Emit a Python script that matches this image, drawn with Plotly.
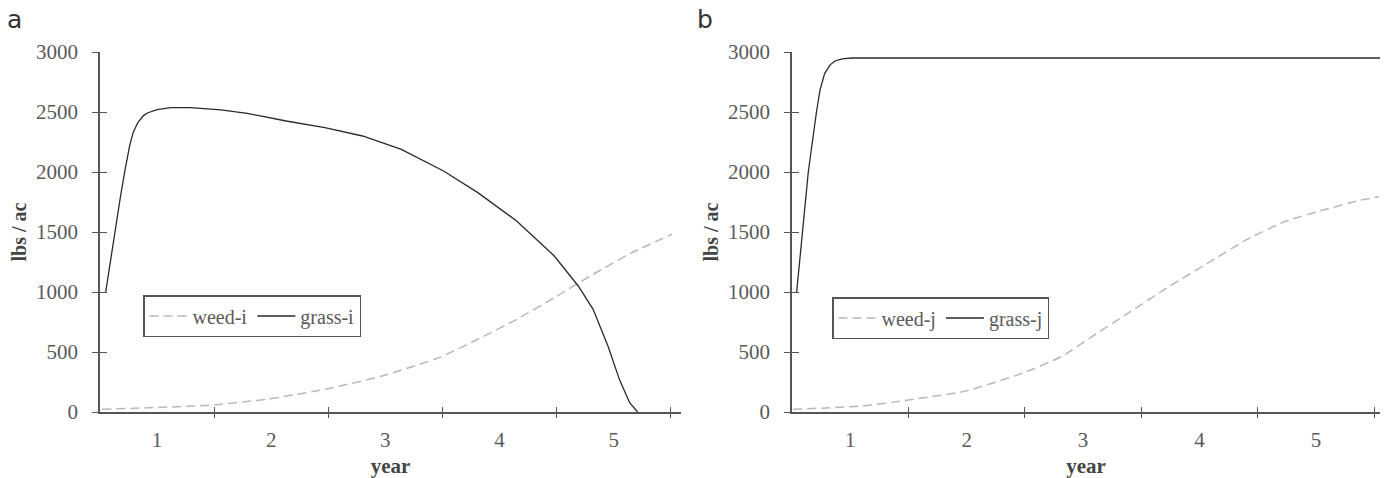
import plotly.graph_objects as go

# ---------------- data ----------------
grass_i_year = [0.55, 0.62, 0.68, 0.72, 0.76, 0.79, 0.83, 0.88, 0.92, 1.0, 1.12, 1.29, 1.56,
                1.79, 2.13, 2.47, 2.80, 3.14, 3.51, 3.81, 4.15, 4.48, 4.69, 4.82, 4.95, 5.05,
                5.14, 5.21]
grass_i_val = [1000, 1450, 1800, 2022, 2220, 2328, 2410, 2470, 2494, 2520, 2536, 2536, 2517,
               2489, 2425, 2369, 2300, 2189, 2008, 1828, 1592, 1300, 1050, 856, 550, 272,
               78, 0]

weed_i_year = [0.52, 1.0, 1.46, 1.96, 2.47, 2.97, 3.47, 3.81, 4.15, 4.48, 4.82, 5.16, 5.51]
weed_i_val = [22, 38, 56, 106, 189, 300, 453, 606, 772, 953, 1147, 1328, 1481]

grass_j_year = [0.54, 0.59, 0.64, 0.71, 0.74, 0.78, 0.83, 0.87, 0.93, 1.01, 2.0, 3.0,
                4.0, 5.0, 5.56]
grass_j_val = [1000, 1500, 2000, 2500, 2680, 2820, 2895, 2925, 2943, 2950, 2950, 2950,
               2950, 2950, 2950]

weed_j_year = [0.51, 1.10, 1.50, 1.99, 2.49, 2.82, 3.08, 3.41, 3.74, 4.07, 4.40, 4.73,
               5.06, 5.39, 5.54]
weed_j_val = [22, 50, 100, 174, 327, 465, 631, 839, 1047, 1240, 1434, 1586, 1683, 1766, 1794]

year_labels = [1, 2, 3, 4, 5]
year_bounds = [1.5, 2.5, 3.5, 4.5, 5.5]
y_ticks = [0, 500, 1000, 1500, 2000, 2500, 3000]

# ---------------- styling ----------------
W, H = 1388, 478
FONT = "Liberation Serif"
AXC = "#555555"
TXT = "#5a5a5a"
GRASS_C = "#2a2a2a"
WEED_C = "#b8b8b8"

dom_a = [100 / W, 681 / W]
dom_b = [792 / W, 1380 / W]
dom_y = [1 - 412 / H, 1 - 52 / H]
rng_a = [0.5, 5.59]
rng_b = [0.5, 5.55]

fig = go.Figure()

fig.add_trace(go.Scatter(x=weed_i_year, y=weed_i_val, mode="lines", name="weed-i",
                         line=dict(color=WEED_C, width=1.5, dash="9px,5px", shape="spline",
                                   smoothing=0.5),
                         xaxis="x", yaxis="y", legend="legend"))
fig.add_trace(go.Scatter(x=grass_i_year, y=grass_i_val, mode="lines", name="grass-i",
                         line=dict(color=GRASS_C, width=1.3),
                         xaxis="x", yaxis="y", legend="legend"))
fig.add_trace(go.Scatter(x=weed_j_year, y=weed_j_val, mode="lines", name="weed-j",
                         line=dict(color=WEED_C, width=1.5, dash="9px,5px", shape="spline",
                                   smoothing=0.5),
                         xaxis="x2", yaxis="y2", legend="legend2"))
fig.add_trace(go.Scatter(x=grass_j_year, y=grass_j_val, mode="lines", name="grass-j",
                         line=dict(color=GRASS_C, width=1.3),
                         xaxis="x2", yaxis="y2", legend="legend2"))


def xmain(dom, rng, anchor):
    return dict(domain=dom, range=rng, anchor=anchor, tickmode="array",
                tickvals=year_labels, ticktext=[str(v) for v in year_labels],
                ticks="", showline=True, linecolor=AXC, linewidth=1.5,
                showgrid=False, zeroline=False, automargin=False,
                ticklabelstandoff=8,
                tickfont=dict(family=FONT, size=21, color=TXT),
                title=dict(text="<b>year</b>", standoff=12,
                           font=dict(family=FONT, size=21, color="#444")))


def xtick(overl, dom, rng, anchor, side):
    return dict(domain=dom, range=rng, anchor=anchor, overlaying=overl,
                tickmode="array", tickvals=year_bounds, ticks=side, ticklen=5,
                tickcolor=AXC, tickwidth=1.3, showticklabels=False, showline=False,
                showgrid=False, zeroline=False, automargin=False)


def ymain(anchor):
    return dict(domain=dom_y, range=[0, 3000], anchor=anchor, tickmode="array",
                tickvals=y_ticks, ticks="outside", ticklen=6, tickcolor=AXC, tickwidth=1.3,
                showline=True, linecolor=AXC, linewidth=1.5, showgrid=False,
                zeroline=False, automargin=False, ticklabelstandoff=10,
                tickfont=dict(family=FONT, size=21, color=TXT),
                title=dict(text="<b>lbs / ac</b>", standoff=4,
                           font=dict(family=FONT, size=20, color="#444")))


def yin(overl, anchor):
    return dict(domain=dom_y, range=[0, 3000], anchor=anchor, overlaying=overl,
                tickmode="array", tickvals=y_ticks, ticks="inside", ticklen=7,
                tickcolor=AXC, tickwidth=1.3, showticklabels=False, showline=False,
                showgrid=False, zeroline=False, automargin=False)


legend_common = dict(orientation="h", bgcolor="rgba(255,255,255,0)",
                     bordercolor="#555", borderwidth=1.5,
                     font=dict(family=FONT, size=20, color=TXT),
                     xanchor="left", yanchor="top", itemwidth=38)

fig.update_layout(
    width=W, height=H,
    margin=dict(l=0, r=0, t=0, b=0),
    paper_bgcolor="white", plot_bgcolor="white",
    showlegend=True,
    xaxis=xmain(dom_a, rng_a, "y"),
    yaxis=ymain("x"),
    xaxis2=xmain(dom_b, rng_b, "y2"),
    yaxis2=ymain("x2"),
    xaxis3=xtick("x", dom_a, rng_a, "y", "outside"),
    xaxis4=xtick("x", dom_a, rng_a, "y", "inside"),
    xaxis5=xtick("x2", dom_b, rng_b, "y2", "outside"),
    xaxis6=xtick("x2", dom_b, rng_b, "y2", "inside"),
    yaxis3=yin("y", "x"),
    yaxis4=yin("y2", "x2"),
    legend=dict(x=143 / W, y=1 - 295 / H, **legend_common),
    legend2=dict(x=832 / W, y=1 - 297 / H, **legend_common),
    annotations=[
        dict(text="a", x=5 / W, y=1 - 3 / H, xref="paper", yref="paper",
             xanchor="left", yanchor="top", showarrow=False,
             font=dict(family="DejaVu Sans", size=25, color="#333")),
        dict(text="b", x=695 / W, y=1 - 3 / H, xref="paper", yref="paper",
             xanchor="left", yanchor="top", showarrow=False,
             font=dict(family="DejaVu Sans", size=25, color="#333")),
    ],
)

# invisible placeholder traces so overlay tick axes render
for xa, ya in [("x3", "y"), ("x4", "y"), ("x5", "y2"), ("x6", "y2"), ("x", "y3"), ("x2", "y4")]:
    fig.add_trace(go.Scatter(x=[None], y=[None], xaxis=xa, yaxis=ya, showlegend=False,
                             hoverinfo="skip"))

fig.write_html("out.html")
